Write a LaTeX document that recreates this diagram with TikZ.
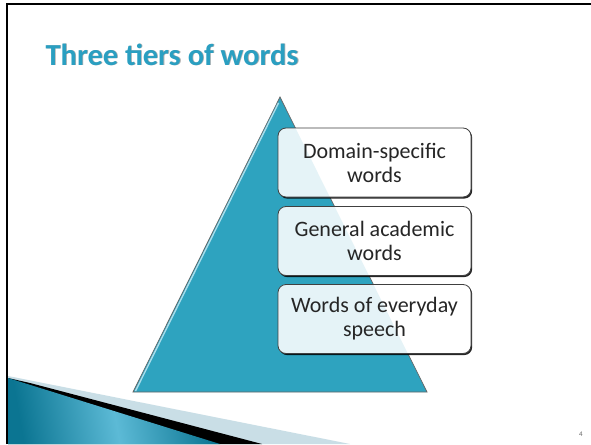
\documentclass[tikz,border=0pt]{standalone}
\usepackage{fontspec}
\setmainfont{Carlito}
\usetikzlibrary{shadows,calc}
\definecolor{tricol}{HTML}{2EA3BF}
\definecolor{titlecol}{HTML}{2A9FC1}
\definecolor{ribdark}{HTML}{0B7592}
\definecolor{riblight}{HTML}{5CBAD6}
\definecolor{hatch}{HTML}{C9DEE6}
\definecolor{hilite}{HTML}{A9DDEB}
\tikzset{
  tierbox/.style={draw=black!75, line width=0.8pt, rounded corners=8pt, fill=white,
    minimum width=193pt, minimum height=69pt, align=center, text=black!85,
    font=\fontsize{22}{24}\selectfont,
    drop shadow={shadow xshift=1.2pt, shadow yshift=-1.6pt, opacity=.85, fill=black},
    path picture={\fill[tricol, opacity=.12] (tA)--(tB)--(tC)--cycle;}},
  border/.style={line width=2pt, black},
  titlefont/.style={font=\fontsize{30.5}{34}\selectfont\bfseries}
}
\begin{document}
\begin{tikzpicture}[x=1pt,y=-1pt]
\useasboundingbox (0,0) rectangle (591,444);
\fill[white] (0,0) rectangle (591,444);
% ribbon
\fill[hatch] (8,376) -- (350,444) -- (8,444) -- cycle;
\fill[black] (30,383) -- (262,444) -- (8,444) -- (8,378) -- cycle;
\path[left color=ribdark, right color=ribdark, middle color=riblight, shading angle=100]
  (8,378) -- (220,444) -- (8,444) -- cycle;
% triangle
\coordinate (tA) at (280,97);
\coordinate (tB) at (133,392);
\coordinate (tC) at (427,392);
\fill[tricol, draw=black!60, line width=0.7pt] (tA) -- (tC) -- (tB) -- cycle;
\draw[hilite, line width=1.4pt] ($(tA)!0.02!(tB)+(1.5,0)$) -- ($(tB)+(2.5,-1)$);
% boxes
\node[tierbox] (b1) at (374.5,162.5) {Domain-specific\\words};
\node[tierbox] (b2) at (374.5,241) {General academic\\words};
\node[tierbox] (b3) at (374.5,319) {Words of everyday\\speech};
% title
\node[anchor=base west, text=black!30, titlefont] at (42.8,65.8) {Three tiers of words};
\node[anchor=base west, text=titlecol, titlefont] (title) at (42,65) {Three tiers of words};
% page number
\node[text=black!60, font=\fontsize{7}{8}\selectfont] (pn) at (581,434) {4};
% border
\draw[border] (7,444) -- (7,4.5) -- (591,4.5);
\end{tikzpicture}
\end{document}
